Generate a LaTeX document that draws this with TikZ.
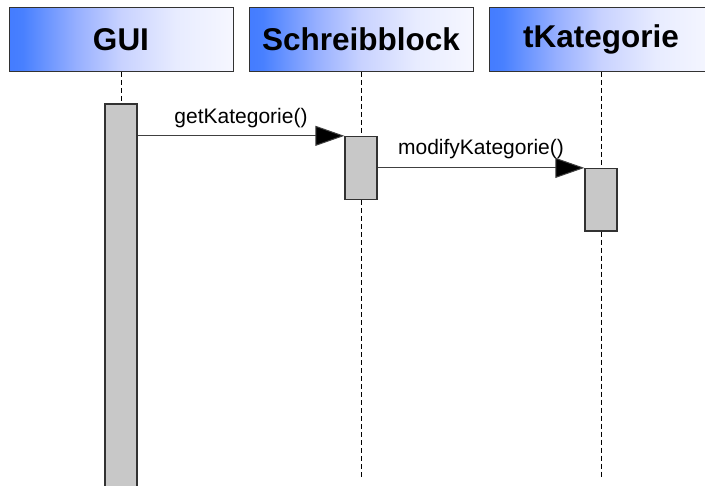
\documentclass[tikz,border=0pt]{standalone}
\usepackage{fontspec}
\setmainfont{Liberation Sans}
\usetikzlibrary{arrows.meta}
\pgfdeclarehorizontalshading{headshade}{100bp}{%
  color(0bp)=(rgb,255:red,68;green,124;blue,255);
  color(25bp)=(rgb,255:red,68;green,124;blue,255);
  color(28bp)=(rgb,255:red,72;green,128;blue,255);
  color(40bp)=(rgb,255:red,150;green,175;blue,255);
  color(50bp)=(rgb,255:red,200;green,210;blue,255);
  color(62.5bp)=(rgb,255:red,232;green,236;blue,255);
  color(75bp)=(rgb,255:red,246;green,247;blue,255);
  color(100bp)=(rgb,255:red,246;green,247;blue,255)}
\definecolor{actfill}{RGB}{200,200,200}
\definecolor{edge}{RGB}{50,50,50}
\tikzset{
  head/.style={draw=edge, line width=1pt, shading=headshade, minimum width=224pt,
    minimum height=64pt, inner sep=0pt, font=\fontsize{31.5}{36}\selectfont\bfseries},
  act/.style={draw=edge, line width=1.3pt, fill=actfill, minimum width=32pt, inner sep=0pt},
  life/.style={draw=black, line width=1pt, dash pattern=on 5pt off 3pt},
  msg/.style={draw=black!75, line width=1pt, -{Triangle[length=29pt,width=20pt,fill=black]}},
  lbl/.style={anchor=base, inner sep=0pt, font=\fontsize{21}{24}\selectfont, text=black}
}
\begin{document}
\begin{tikzpicture}[x=1pt,y=-1pt]
\useasboundingbox (0,0) rectangle (705,486);
\node[head] (gui) at (121,39.5) {GUI};
\node[head] (sb) at (361,39.5) {Schreibblock};
\node[head] (tk) at (601,39.5) {tKategorie};
\node[act, minimum height=396pt] (a1) at (121,302) {};
\node[act, minimum height=63pt] (a2) at (361,168) {};
\node[act, minimum height=62.5pt] (a3) at (601,199.8) {};
\coordinate (e2) at (361,479);
\coordinate (e3) at (601,479);
\draw[life] (gui.south) -- (a1.north);
\draw[life] (sb.south) -- (a2.north);
\draw[life] (a2.south) -- (e2);
\draw[life] (tk.south) -- (a3.north);
\draw[life] (a3.south) -- (e3);
\draw[msg] (a1.east |- a2.north west) -- node[lbl, yshift=12pt] (l1) {getKategorie()} (a2.north west);
\draw[msg] (a2.east |- a3.north west) -- node[lbl, yshift=13pt] (l2) {modifyKategorie()} (a3.north west);
\end{tikzpicture}
\end{document}
